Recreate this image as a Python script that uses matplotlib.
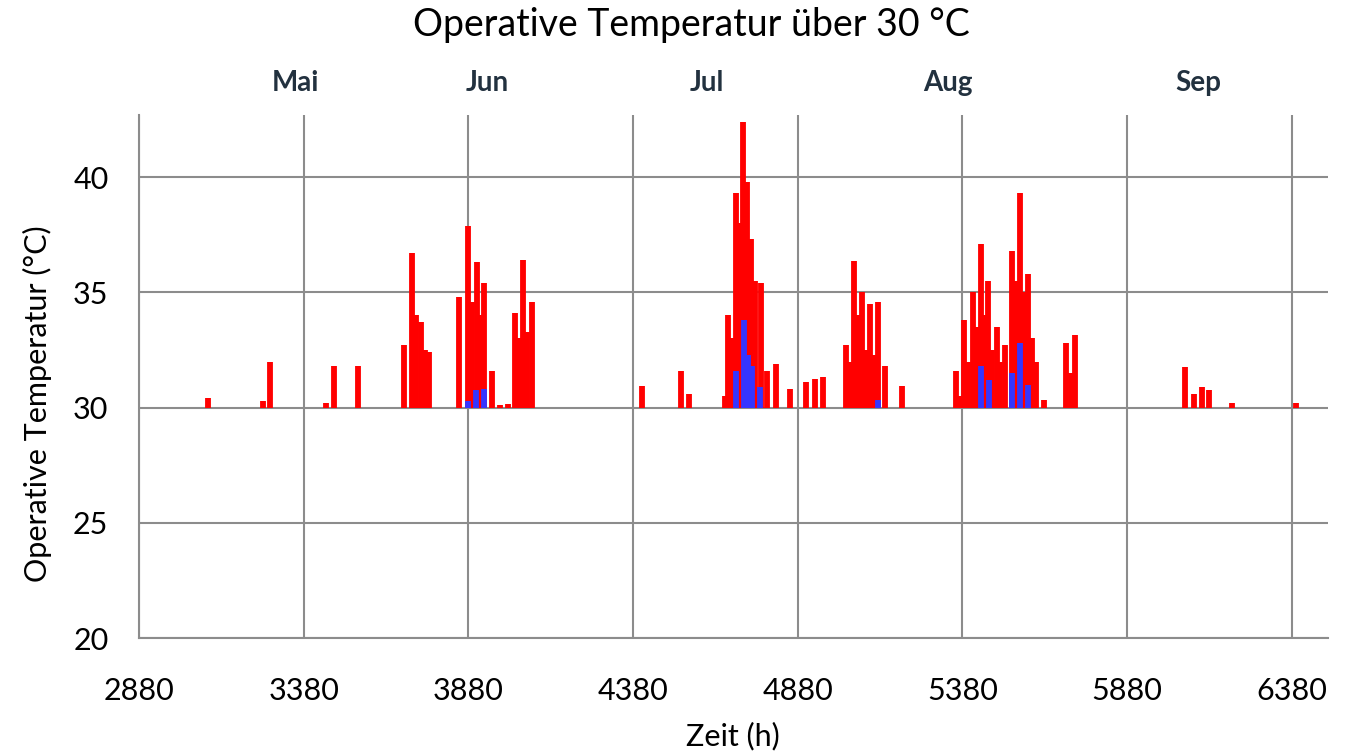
import matplotlib.pyplot as plt
from matplotlib import transforms

plt.rcParams['font.family'] = ['Lato', 'DejaVu Sans']

# hours (h) and peak operative temperature (°C) of each column above 30 °C
red_hours = [3089, 3256, 3278, 3448, 3472, 3544,
             3685, 3710, 3721, 3737, 3748, 3761,
             3850, 3880, 3892, 3905, 3915, 3928, 3953, 3976, 4001,
             4022, 4034, 4047, 4058, 4072,
             4406, 4525, 4550,
             4659, 4669, 4680, 4692, 4704, 4715, 4726, 4738, 4750, 4768, 4787, 4814,
             4856, 4905, 4932, 4956,
             5026, 5038, 5051, 5063, 5075, 5087, 5099, 5111, 5124, 5145, 5196,
             5362, 5372, 5385, 5397, 5413, 5424, 5436, 5448, 5458, 5470, 5484, 5494,
             5509, 5530, 5543, 5555, 5567, 5580, 5591, 5603, 5628,
             5696, 5710, 5722,
             6056, 6083, 6106, 6129, 6200, 6393]
red_temps = [30.4, 30.3, 32.0, 30.2, 31.8, 31.8,
             32.7, 36.7, 34.0, 33.7, 32.5, 32.4,
             34.8, 37.9, 34.6, 36.3, 34.0, 35.4, 31.6, 30.1, 30.15,
             34.1, 33.0, 36.4, 33.3, 34.6,
             30.95, 31.6, 30.6,
             30.5, 34.0, 33.0, 39.3, 38.0, 42.4, 39.8, 37.3, 35.5, 35.4, 31.6, 31.9,
             30.8, 31.1, 31.25, 31.35,
             32.7, 32.0, 36.35, 34.0, 35.0, 32.5, 34.5, 32.3, 34.6, 31.8, 30.95,
             31.6, 30.5, 33.8, 32.0, 35.0, 33.5, 37.1, 34.0, 35.5, 32.5, 33.5, 32.0,
             32.7, 36.8, 35.5, 39.3, 35.0, 35.8, 33.0, 32.0, 30.35,
             32.8, 31.5, 33.15,
             31.75, 30.6, 30.9, 30.75, 30.2, 30.2]

blue_hours = [3878, 3902, 3927,
              4692, 4717, 4728, 4740, 4765,
              5123,
              5435, 5461, 5530, 5555, 5580]
blue_temps = [30.3, 30.75, 30.8,
              31.6, 33.8, 32.3, 31.8, 30.9,
              30.35,
              31.8, 31.2, 31.5, 32.8, 31.0]

base = 30
months = ['Mai', 'Jun', 'Jul', 'Aug', 'Sep']
month_pos = [3354, 3937, 4605, 5337, 6095]
x_ticks = [2880, 3380, 3880, 4380, 4880, 5380, 5880, 6380]
y_ticks = [20, 25, 30, 35, 40]

fig = plt.figure(figsize=(13.5, 7.53), dpi=100)
ax = fig.add_axes([0.103, 0.1527, 0.8807, 0.6946])

ax.vlines(red_hours, base, red_temps, colors='#ff0000', linewidth=4.2, zorder=3)
ax.vlines(blue_hours, base, blue_temps, colors='#3535ff', linewidth=4.2, zorder=4)

ax.set_xlim(2880, 6490)
ax.set_ylim(20, 42.7)
ax.set_xticks(x_ticks)
ax.set_yticks(y_ticks)
ax.grid(True, color='#8c8c8c', linewidth=1.5, zorder=1)
ax.set_axisbelow(True)
for side in ['top', 'right']:
    ax.spines[side].set_visible(False)
for side in ['left', 'bottom']:
    ax.spines[side].set_color('#8c8c8c')
    ax.spines[side].set_linewidth(1.5)
ax.tick_params(axis='both', length=0, labelsize=22, colors='black')
ax.tick_params(axis='x', pad=28)
ax.tick_params(axis='y', pad=22)

# month labels above the plot area
trans = transforms.blended_transform_factory(ax.transData, ax.transAxes)
for m, pos in zip(months, month_pos):
    ax.text(pos, 1.061, m, transform=trans, ha='center', va='center',
            fontsize=20, fontweight='bold', color='#22313f')

fig.text(691 / 1350, 1 - 25 / 753, 'Operative Temperatur über 30 °C',
         ha='center', va='center', fontsize=27)
fig.text(733 / 1350, 1 - 736 / 753, 'Zeit (h)', ha='center', va='center', fontsize=22)
fig.text(37 / 1350, 1 - 404 / 753, 'Operative Temperatur (°C)', rotation=90,
         ha='center', va='center', fontsize=22)

fig.savefig('out.png', dpi=100)
